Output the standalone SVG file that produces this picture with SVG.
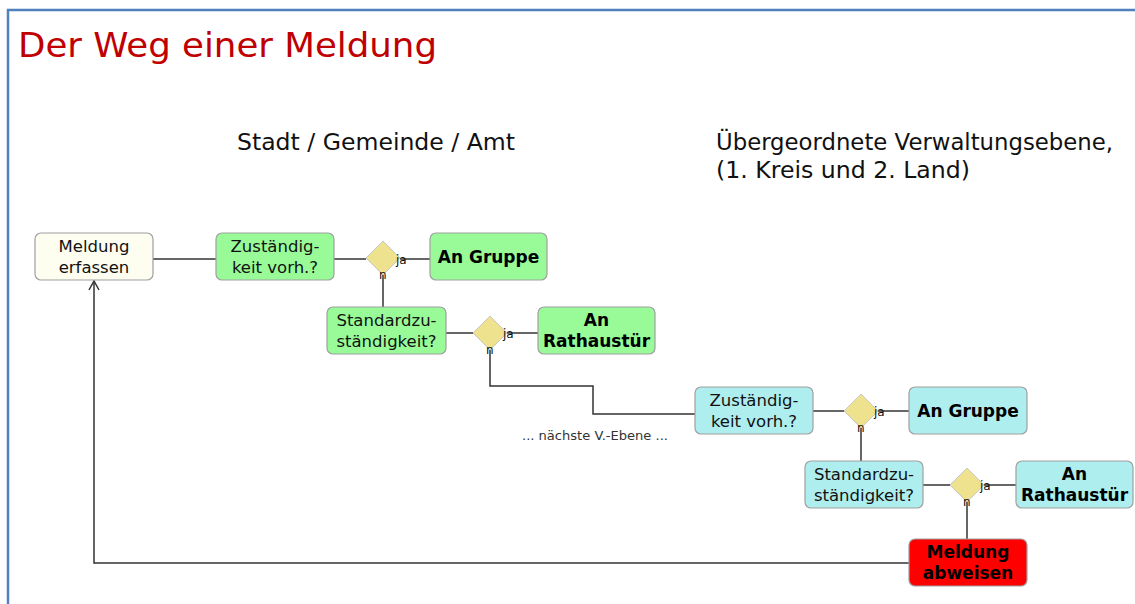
<svg xmlns="http://www.w3.org/2000/svg" width="1135" height="604" viewBox="0 0 1135 604">
<defs>
<style>
.frame{stroke:#4f81bd;stroke-width:2.5;fill:none}
.title{font-family:"DejaVu Sans",Verdana,sans-serif;font-size:34px;fill:#c00000}
.head{font-family:"DejaVu Sans",Verdana,sans-serif;font-size:23px;fill:#111}
.box{stroke:#a0a0a0;stroke-width:1.2}
.cream{fill:#fdfdf0}
.green{fill:#98fb98}
.cyan{fill:#afeeee}
.red{fill:#ff0000}
.dia{fill:#eee28f;stroke:#c8c8c8;stroke-width:1}
.t{font-family:"DejaVu Sans",Verdana,sans-serif;font-size:16.5px;fill:#111;text-anchor:middle}
.b{font-family:"DejaVu Sans",Verdana,sans-serif;font-size:17px;font-weight:bold;fill:#000;text-anchor:middle}
.s{font-family:"DejaVu Sans",Verdana,sans-serif;font-size:12px;fill:#111}
.note{font-family:"DejaVu Sans",Verdana,sans-serif;font-size:12px;fill:#333}
.c{stroke:#333;stroke-width:1.5;fill:none}
</style>
<marker id="arr" markerWidth="12" markerHeight="12" refX="11" refY="6" orient="auto" markerUnits="userSpaceOnUse" viewBox="0 0 12 12">
<path d="M2,1 L11,6 L2,11" fill="none" stroke="#333" stroke-width="1.5"/>
</marker>
</defs>
<rect width="1135" height="604" fill="#fff"/>
<path class="frame" d="M8,604 V10 H1135"/>
<text class="title" x="18" y="57" textLength="419" lengthAdjust="spacingAndGlyphs">Der Weg einer Meldung</text>
<text class="head" x="237" y="150" textLength="278" lengthAdjust="spacingAndGlyphs">Stadt / Gemeinde / Amt</text>
<text class="head" x="716" y="150" textLength="397" lengthAdjust="spacingAndGlyphs">Übergeordnete Verwaltungsebene,</text>
<text class="head" x="716" y="178" textLength="254" lengthAdjust="spacingAndGlyphs">(1. Kreis und 2. Land)</text>

<g id="connectors">
<path class="c" d="M153,259 H216"/>
<path class="c" d="M334,259 H366"/>
<path class="c" d="M400,259 H430"/>
<path class="c" d="M383,275 V307"/>
<path class="c" d="M446,333 H473"/>
<path class="c" d="M507,333 H538"/>
<path class="c" d="M490,350 V386 H593 V414 H695"/>
<path class="c" d="M813,411 H844"/>
<path class="c" d="M878,411 H909"/>
<path class="c" d="M861,428 V461"/>
<path class="c" d="M923,485 H950"/>
<path class="c" d="M984,485 H1016"/>
<path class="c" d="M967,502 V539"/>
<path class="c" d="M909,563 H94 V281" marker-end="url(#arr)"/>
</g>

<g id="n_erfassen">
<rect class="box cream" x="35" y="233" width="118" height="47" rx="6"/>
<text class="t" x="94" y="252">Meldung</text>
<text class="t" x="94" y="273">erfassen</text>
</g>
<g id="n_zust1">
<rect class="box green" x="216" y="233" width="118" height="47" rx="6"/>
<text class="t" x="275" y="252">Zuständig-</text>
<text class="t" x="275" y="273">keit vorh.?</text>
</g>
<g id="d1">
<path class="dia" d="M383,241 L400,258 L383,275 L366,258 Z"/>
<text class="s" x="396" y="264">ja</text>
<text class="s" x="379" y="279">n</text>
</g>
<g id="n_gruppe1">
<rect class="box green" x="430" y="233" width="117" height="47" rx="6"/>
<text class="b" x="488.5" y="263">An Gruppe</text>
</g>
<g id="n_std1">
<rect class="box green" x="327" y="307" width="119" height="47" rx="6"/>
<text class="t" x="386.5" y="326">Standardzu-</text>
<text class="t" x="386.5" y="347">ständigkeit?</text>
</g>
<g id="d2">
<path class="dia" d="M490,316 L507,333 L490,350 L473,333 Z"/>
<text class="s" x="503" y="338">ja</text>
<text class="s" x="486" y="354">n</text>
</g>
<g id="n_rath1">
<rect class="box green" x="538" y="307" width="117" height="47" rx="6"/>
<text class="b" x="596.5" y="326">An</text>
<text class="b" x="596.5" y="347">Rathaustür</text>
</g>

<text class="note" x="522" y="440" textLength="146" lengthAdjust="spacingAndGlyphs">... nächste V.-Ebene ...</text>

<g id="n_zust2">
<rect class="box cyan" x="695" y="387" width="118" height="47" rx="6"/>
<text class="t" x="754" y="406">Zuständig-</text>
<text class="t" x="754" y="427">keit vorh.?</text>
</g>
<g id="d3">
<path class="dia" d="M861,394 L878,411 L861,428 L844,411 Z"/>
<text class="s" x="874" y="416">ja</text>
<text class="s" x="857" y="432">n</text>
</g>
<g id="n_gruppe2">
<rect class="box cyan" x="909" y="387" width="118" height="47" rx="6"/>
<text class="b" x="968" y="417">An Gruppe</text>
</g>
<g id="n_std2">
<rect class="box cyan" x="805" y="461" width="118" height="47" rx="6"/>
<text class="t" x="864" y="480">Standardzu-</text>
<text class="t" x="864" y="501">ständigkeit?</text>
</g>
<g id="d4">
<path class="dia" d="M967,468 L984,485 L967,502 L950,485 Z"/>
<text class="s" x="980" y="490">ja</text>
<text class="s" x="963" y="506">n</text>
</g>
<g id="n_rath2">
<rect class="box cyan" x="1016" y="461" width="117" height="47" rx="6"/>
<text class="b" x="1074.5" y="480">An</text>
<text class="b" x="1074.5" y="501">Rathaustür</text>
</g>
<g id="n_abweisen">
<rect class="box red" x="909" y="539" width="118" height="47" rx="6"/>
<text class="b" x="968" y="558">Meldung</text>
<text class="b" x="968" y="579">abweisen</text>
</g>
</svg>
